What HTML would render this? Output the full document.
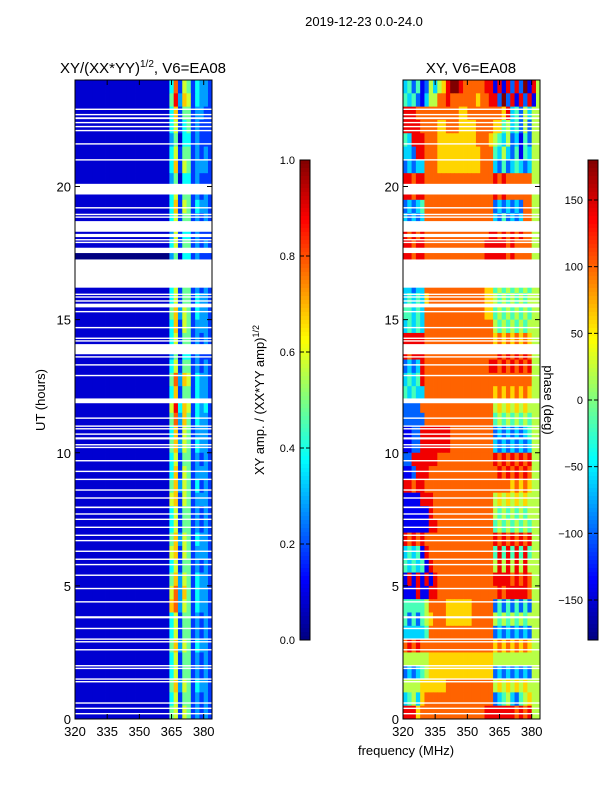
<!DOCTYPE html>
<html><head><meta charset="utf-8"><style>
body{margin:0;background:#fff;width:600px;height:800px;overflow:hidden}
svg text{font-family:"Liberation Sans",sans-serif;fill:#000}
</style></head><body>
<svg id="fig" width="600" height="800" viewBox="0 0 600 800" xmlns="http://www.w3.org/2000/svg">
<rect width="600" height="800" fill="#fff"/>
<text x="364" y="26" font-size="13" text-anchor="middle">2019-12-23 0.0-24.0</text>
<text x="143" y="73" font-size="15" text-anchor="middle">XY/(XX*YY)<tspan font-size="10" dy="-6">1/2</tspan><tspan dy="6">, V6=EA08</tspan></text>
<text x="471" y="73" font-size="15" text-anchor="middle">XY, V6=EA08</text>
<text transform="translate(45,400) rotate(-90)" font-size="13" text-anchor="middle">UT (hours)</text>
<text x="406" y="755" font-size="13" text-anchor="middle">frequency (MHz)</text>
<text transform="translate(264,400) rotate(-90)" font-size="13" text-anchor="middle">XY amp. / (XX*YY amp)<tspan font-size="9" dy="-5">1/2</tspan></text>
<text transform="translate(544,400) rotate(90)" font-size="13" text-anchor="middle">phase (deg)</text>
<g id="g"></g>
</svg>
<script>
const ampRows=[
"11111111111111111111114826524332","11111111111111111111115937624332","11111111111111111111114725523322","11111111111111111111114624523222",
"11111111111111111111113514423222","11111111111111111111114625523232","11111111111111111111114726523332","11111111111111111111113514423222",
"11111111111111111111114625523232","11111111111111111111114726524332","11111111111111111111114625523232","11111111111111111111113624423222",
"11111111111111111111114625523232","00000000000000000000003514423222","11111111111111111111114625523232","11111111111111111111114625523232",
"11111111111111111111114625524332","11111111111111111111115736524332","11111111111111111111114726523332","11111111111111111111114625523232",
"11111111111111111111113514423222","11111111111111111111114625523232","11111111111111111111115837624332","11111111111111111111114725524332",
"11111111111111111111116947624342","11111111111111111111115837524332","11111111111111111111114726523332","11111111111111111111115736524332",
"11111111111111111111114625523232","11111111111111111111114726523332","11111111111111111111115736524232","11111111111111111111116726523332",
"11111111111111111111114625523232","11111111111111111111114625523232","11111111111111111111115736524332","11111111111111111111116726523332",
"11111111111111111111114625523232","11111111111111111111115736524332","11111111111111111111116837524332","11111111111111111111117836524332",
"11111111111111111111114625523232","11111111111111111111114625523232","11111111111111111111115736524332","11111111111111111111114625523232",
"11111111111111111111114625523232","11111111111111111111115736524332","11111111111111111111114625523232","11111111111111111111115626523232"];
const phaseRows=[
"34241253568998777778818182829185","43421355778777777677882928182815","88877777777776677777777683425355","88887777667776666777766453425255",
"43888777666666666777654352314255","33288777666666666677743532414355","23233777666666666677732423432355","88788777777777777777787877777755",
"88788777777777777777787877777755","23234777777777777777723232327755","32323777777777777777732423237755","87878777777777777777887878787755",
"88788777777777777778888878777755","88788777777777777778888878777755","87878778788777777778787878778785","33233777777777777776645454545455",
"34343677777777777776654545454555","44343777777777777776645454545455","34343777777777777777754545454555","88888777777777777777767676767655",
"87888777777777777777778787878755","23238777777777777777887878787855","34348777777777777777777777777755","43433777777777777777767676767655",
"22227777777777777777756565656555","22222777777777777777745454545455","11228888888777777777723232323455","11228888888777777777732323232355",
"22888888777777777777787878787855","11288877777777777777778787878755","88788777777777777777777776767655","11118887777777777777756565656555",
"11111187777777777777754545454555","11111188777777777777745454545455","87878777777777777777787878787855","34341877777777777777748484848455",
"43434187777777777777758585858555","18181818777777777777788887878755","11181188777777777777778788888755","44444577776666667777724242424255",
"42424567776666667777754545454555","33333477777777777777723232323255","78787777777777777777767676767655","55555566666666666666655555555555",
"23234566666666666666623232323255","55556666667777777777756565656555","34536777777777777777723453245655","88867777777777777778888888787855"];
const rowHours=0.5, freqStart=320, freqStep=2, tMax=24;
const gaps=[[22.53,22.6],[19.7,20.1],[18.3,18.7],[18.1,18.22],[17.5,17.7],[16.2,17.26],[15.46,15.6],[13.7,14.08],[11.86,12.04],[10.5,10.58],[7.92,7.98],[3.78,3.86]];
const thinGaps=[22.9,22.7,22.4,22.25,22.1,21.6,21.0,19.2,18.95,18.85,18.0,17.9,15.95,15.85,15.7,15.3,14.7,14.3,14.2,13.9,13.6,13.3,12.9,11.3,11.0,10.9,10.7,10.3,10.2,9.7,9.3,9.0,8.6,8.3,7.7,7.5,7.2,6.9,6.7,6.3,6.0,5.8,5.4,4.9,4.4,3.4,3.0,2.9,2.6,2.0,1.9,1.5,1.4,0.6,0.4,0.2];
const yTicks=[0,5,10,15,20], xTicks=[320,335,350,365,380];
const ampTicks=[0.0,0.2,0.4,0.6,0.8,1.0], phaseTicks=[-150,-100,-50,0,50,100,150];

const NS="http://www.w3.org/2000/svg", g=document.getElementById('g');
function mk(tag,attrs,parent){const e=document.createElementNS(NS,tag);for(const k in attrs)e.setAttribute(k,attrs[k]);(parent||g).appendChild(e);return e;}
function jet(v){v=Math.max(0,Math.min(1,v));const c=x=>Math.round(255*Math.max(0,Math.min(1,x)));
 return `rgb(${c(1.5-Math.abs(4*v-3))},${c(1.5-Math.abs(4*v-2))},${c(1.5-Math.abs(4*v-1))})`;}
const yT=t=>719-(t/tMax)*639;
function panel(x0,rows,valFn,name){
 const w=137, xF=f=>x0+(f-320)*(128.7/60);
 const pg=mk('g',{});
 
 
 rows.forEach((r,i)=>{const t1=tMax-i*rowHours,t0=t1-rowHours;
  for(let j=0;j<r.length;j++){const f0=freqStart+j*freqStep,f1=Math.min(f0+freqStep,383.9);
   const c=mk('rect',{x:xF(f0),y:yT(t1),width:xF(f1)-xF(f0)+0.4,height:yT(t0)-yT(t1)+0.4,fill:jet(valFn(r[j]))},pg);
   
   }});
 gaps.forEach(([a,b])=>{const e=mk('rect',{x:x0,y:yT(b),width:w,height:yT(a)-yT(b),fill:'#fff'},pg);
  
  });
 thinGaps.forEach(t=>{const e=mk('rect',{x:x0,y:yT(t)-0.7,width:w,height:1.4,fill:'#fff'},pg);
  
  });
 const fr=mk('rect',{x:x0,y:80,width:w,height:639,fill:'none',stroke:'#000','stroke-width':1});
 
 
 yTicks.forEach(t=>{const y=yT(t);mk('line',{x1:x0,x2:x0+5,y1:y,y2:y,stroke:'#000'});mk('line',{x1:x0+w-5,x2:x0+w,y1:y,y2:y,stroke:'#000'});
  const l=mk('text',{x:x0-4,y:y+5,'font-size':13,'text-anchor':'end'});l.textContent=t;
  
  });
 xTicks.forEach(f=>{const x=xF(f);mk('line',{x1:x,x2:x,y1:719,y2:714,stroke:'#000'});mk('line',{x1:x,x2:x,y1:80,y2:85,stroke:'#000'});
  const l=mk('text',{x:x,y:736,'font-size':13,'text-anchor':'middle'});l.textContent=f;
  
  });
}
panel(75,ampRows,ch=>(+ch)*0.1-0.02,'amplitude-heatmap');
panel(403,phaseRows,ch=>(+ch)/9,'phase-heatmap');
function cbar(x0,vmin,vmax,ticks,name,fmt){
 const cg=mk('g',{});
 
 
 const n=120;for(let i=0;i<n;i++){mk('rect',{x:x0,y:160+i*4,width:10,height:4.4,fill:jet(1-(i+0.5)/n)},cg);}
 mk('rect',{x:x0,y:160,width:10,height:480,fill:'none',stroke:'#000'},cg);
 ticks.forEach(v=>{const y=640-(v-vmin)/(vmax-vmin)*480;
  mk('line',{x1:x0,x2:x0+4,y1:y,y2:y,stroke:'#000'},cg);
  mk('line',{x1:x0+6,x2:x0+10,y1:y,y2:y,stroke:'#000'},cg);
  const l=mk('text',{x:x0-5,y:y+4,'font-size':11,'text-anchor':'end'},cg);l.textContent=fmt(v);
  
  });
}
cbar(300,0,1,ampTicks,'amplitude-colorbar',v=>v.toFixed(1));
cbar(588,-180,180,phaseTicks,'phase-colorbar',v=>v<0?'\u2212'+(-v):''+v);
</script>
</body></html>
